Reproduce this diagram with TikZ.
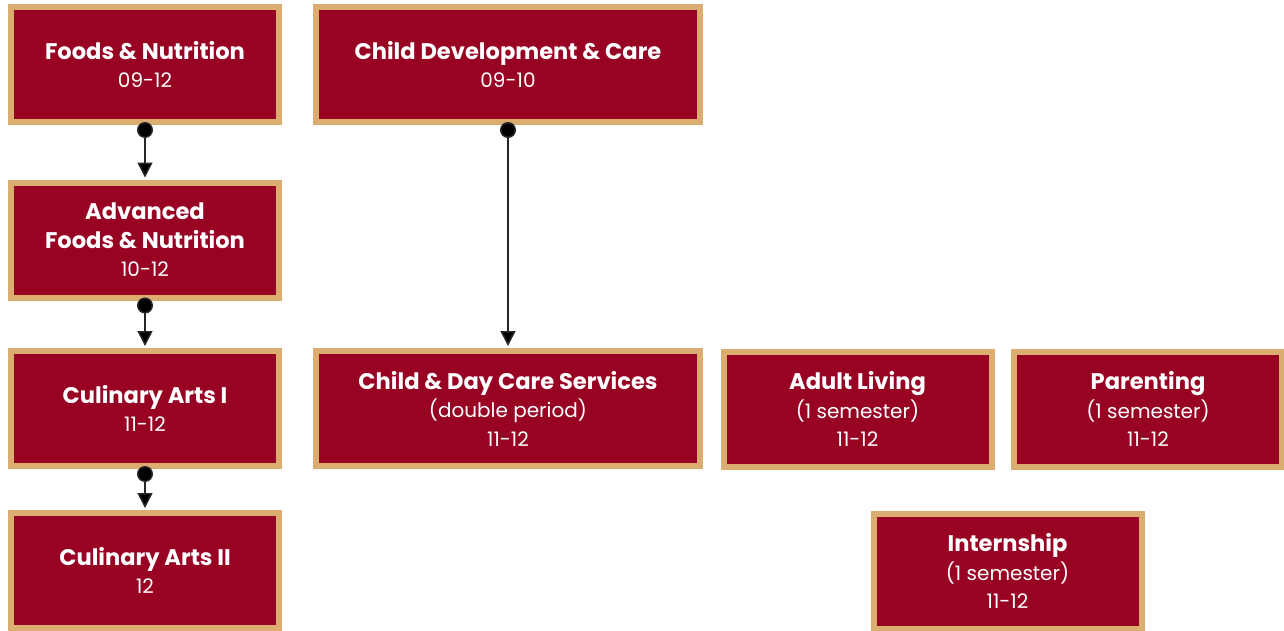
\documentclass[tikz,border=0pt]{standalone}
\usepackage{fontspec}
\setmainfont{Poppins}
\usetikzlibrary{arrows.meta}
\definecolor{crimson}{RGB}{152,3,36}
\definecolor{tan}{RGB}{219,173,112}
\newcommand{\crsname}[1]{{\fontsize{22.6}{28.5}\selectfont\bfseries #1}}
\tikzset{
  course/.style={draw=tan, line width=6pt, fill=crimson, text=white, align=center,
    minimum width=268pt, minimum height=115pt, inner sep=0pt,
    font=\fontsize{20}{28.5}\selectfont},
  link/.style={line width=1.5pt, draw=black!85, fill=black,
    {Circle[length=16pt,width=16pt,fill=black]}-{Triangle[length=15pt,width=15pt,fill=black]},
    shorten <=-3pt, shorten >=2pt}
}
\begin{document}
\begin{tikzpicture}[x=1pt,y=-1pt]
\useasboundingbox (0,0) rectangle (1284,630);
\node[course] (foods) at (145,64.5) {\crsname{Foods \& Nutrition}\\09-12};
\node[course, minimum width=384pt] (childdev) at (508,64.5) {\crsname{Child Development \& Care}\\09-10};
\node[course] (advfoods) at (145,240) {\crsname{Advanced}\\\crsname{Foods \& Nutrition}\\10-12};
\node[course] (culin1) at (145,408.5) {\crsname{Culinary Arts I}\\11-12};
\node[course, minimum width=384pt] (daycare) at (508,408.5) {\crsname{Child \& Day Care Services}\\(double period)\\11-12};
\node[course] (adult) at (857.5,409) {\crsname{Adult Living}\\(1 semester)\\11-12};
\node[course] (parent) at (1148,409) {\crsname{Parenting}\\(1 semester)\\11-12};
\node[course] (culin2) at (145,570.5) {\crsname{Culinary Arts II}\\12};
\node[course] (intern) at (1007.5,571) {\crsname{Internship}\\(1 semester)\\11-12};
\draw[link] (foods.south) -- (advfoods.north);
\draw[link] (advfoods.south) -- (culin1.north);
\draw[link] (culin1.south) -- (culin2.north);
\draw[link] (childdev.south) -- (daycare.north);
\end{tikzpicture}
\end{document}
